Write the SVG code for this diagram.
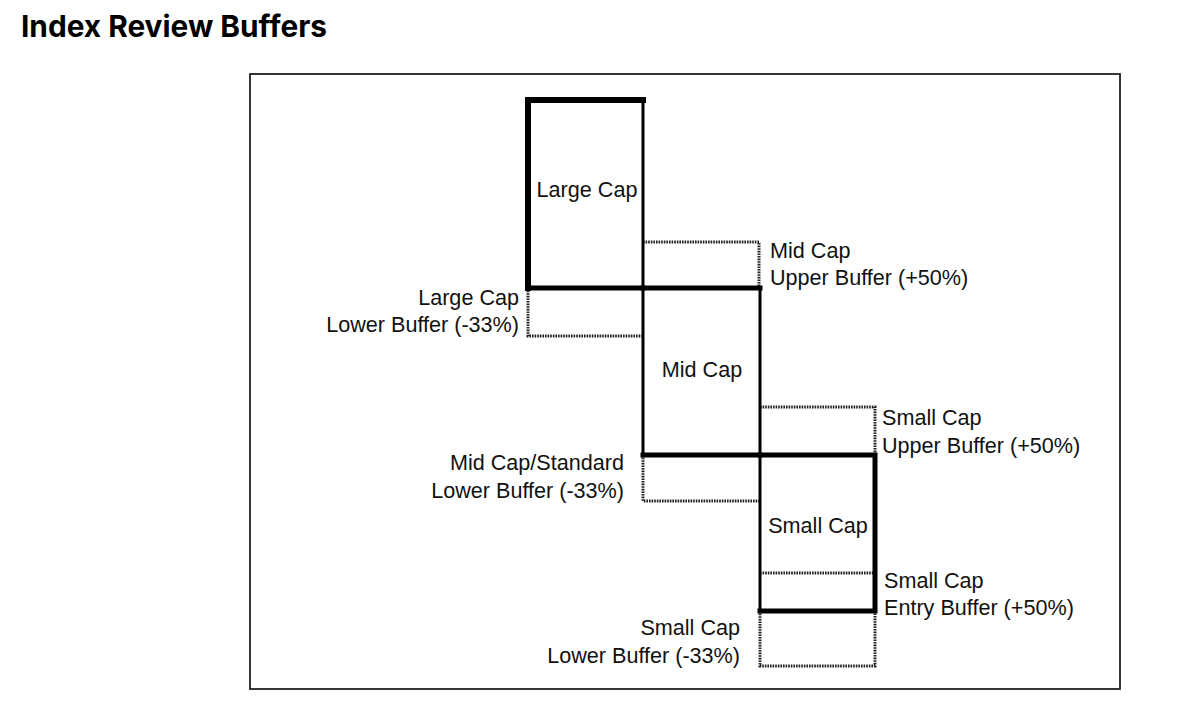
<svg xmlns="http://www.w3.org/2000/svg" width="1200" height="719" viewBox="0 0 1200 719">
<style>
.lbl{font-family:"Liberation Sans",Arial,sans-serif;font-size:21.6px;fill:#111}
.mid{text-anchor:middle}
.end{text-anchor:end}
.dot{fill:none;stroke:#222;stroke-width:3;stroke-dasharray:1.6 1}
.box{fill:none;stroke:#000;stroke-linecap:square}
</style>
<rect width="1200" height="719" fill="#fff"/>
<text x="21" y="37" style="font-family:Inter,'Liberation Sans',sans-serif;font-weight:700;font-size:29.8px;fill:#000">Index Review Buffers</text>
<rect id="frame" x="250" y="74" width="870" height="615" fill="none" stroke="#222" stroke-width="1.8"/>
<g id="connectors"></g>
<g id="mid-upper-buffer">
<path class="dot" d="M643,242 H759 V288"/>
<text class="lbl" x="770" y="258">Mid Cap</text>
<text class="lbl" x="770" y="285">Upper Buffer (+50%)</text>
</g>
<g id="large-lower-buffer">
<path class="dot" d="M528,288 V336 H643"/>
<text class="lbl end" x="519" y="305">Large Cap</text>
<text class="lbl end" x="519" y="332">Lower Buffer (-33%)</text>
</g>
<g id="small-upper-buffer">
<path class="dot" d="M760,407 H875 V455"/>
<text class="lbl" x="882" y="425">Small Cap</text>
<text class="lbl" x="882" y="453">Upper Buffer (+50%)</text>
</g>
<g id="mid-lower-buffer">
<path class="dot" d="M643,455 V501 H760"/>
<text class="lbl end" x="624" y="470">Mid Cap/Standard</text>
<text class="lbl end" x="624" y="498">Lower Buffer (-33%)</text>
</g>
<g id="small-entry-buffer">
<path class="dot" d="M760,573 H875"/>
<text class="lbl" x="884" y="588">Small Cap</text>
<text class="lbl" x="884" y="615">Entry Buffer (+50%)</text>
</g>
<g id="small-lower-buffer">
<path class="dot" d="M760,611 V666 H875 V611"/>
<text class="lbl end" x="740" y="635">Small Cap</text>
<text class="lbl end" x="740" y="663">Lower Buffer (-33%)</text>
</g>
<g id="large-cap">
<path class="box" stroke-width="3" d="M643,100 V288"/>
<path class="box" stroke-width="6" d="M528,288 V100 H643"/>
<path class="box" stroke-width="5" d="M528,288 H643"/>
<text class="lbl mid" x="587" y="197">Large Cap</text>
</g>
<g id="mid-cap">
<path class="box" stroke-width="3" d="M643,288 V455 M760,288 V455"/>
<path class="box" stroke-width="5" d="M643,288 H760 M643,455 H760"/>
<text class="lbl mid" x="702" y="377">Mid Cap</text>
</g>
<g id="small-cap">
<path class="box" stroke-width="3" d="M760,455 V611"/>
<path class="box" stroke-width="5" d="M760,455 H875 V611 H760"/>
<text class="lbl mid" x="818" y="533">Small Cap</text>
</g>
</svg>
